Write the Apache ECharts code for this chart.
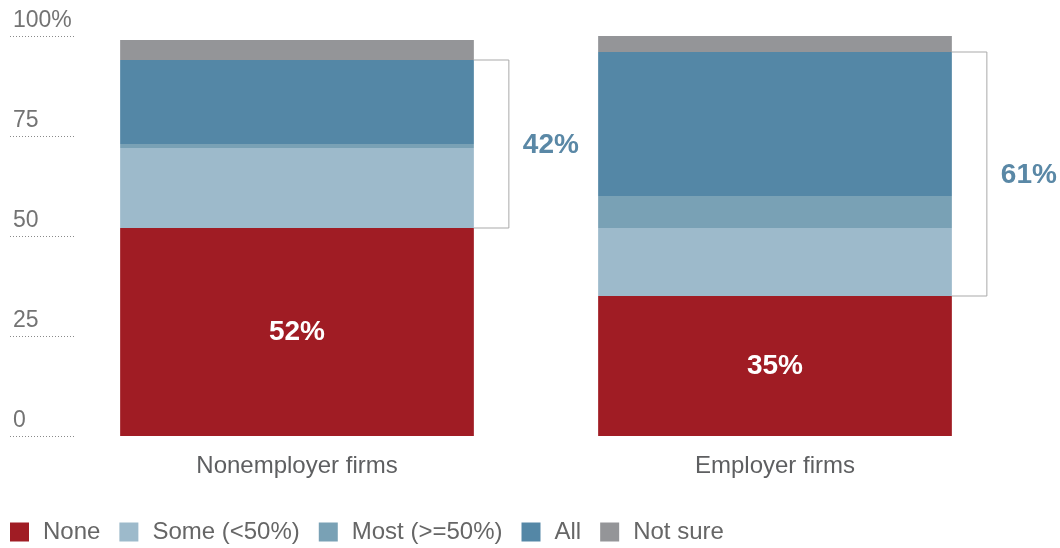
<!DOCTYPE html>
<html>
<head>
<meta charset="utf-8">
<script src="https://cdn.jsdelivr.net/npm/echarts@6/dist/echarts.min.js"></script>
<style>
  html, body { margin: 0; padding: 0; background: #ffffff; }
  #chart { width: 1060px; height: 548px; }
</style>
</head>
<body>
<div id="chart"></div>
<script>
// Share of firms by how much of their business is online (percent of firms)
const categories = ['Nonemployer firms', 'Employer firms'];
const noneValues = [52, 35];
const someValues = [20, 17];
const mostValues = [1, 8];
const allValues = [21, 36];
const notSureValues = [5, 4];
const yTicks = [0, 25, 50, 75, 100];

const seriesNames = ['None', 'Some (<50%)', 'Most (>=50%)', 'All', 'Not sure'];
const seriesColors = ['#a01c24', '#9dbacb', '#79a1b5', '#5487a6', '#949598'];
const seriesValues = [noneValues, someValues, mostValues, allValues, notSureValues];

const FONT = '"Liberation Sans", Arial, Helvetica, sans-serif';
const BAR_FRACTION = 0.74;

// Bracket spanning every "some online" answer, from top of None to top of All
const bracketData = categories.map((c, i) => {
  const lo = noneValues[i];
  const share = someValues[i] + mostValues[i] + allValues[i];
  return [i, lo, lo + share, share];
});

const chart = echarts.init(document.getElementById('chart'), null, { renderer: 'canvas' });

const barSeries = seriesNames.map((name, k) => ({
  name: name,
  type: 'bar',
  stack: 'share',
  barWidth: (BAR_FRACTION * 100) + '%',
  itemStyle: { color: seriesColors[k] },
  emphasis: { disabled: true },
  label: k === 0 ? {
    show: true,
    position: 'inside',
    formatter: '{c}%',
    color: '#ffffff',
    fontFamily: FONT,
    fontWeight: 'bold',
    fontSize: 28
  } : { show: false },
  data: seriesValues[k]
}));

chart.setOption({
  animation: false,
  textStyle: { fontFamily: FONT },
  grid: { left: 58, right: 46, top: 36, bottom: 112 },
  legend: {
    data: seriesNames,
    left: 10,
    top: 520,
    padding: 0,
    icon: 'rect',
    itemWidth: 19,
    itemHeight: 19,
    itemGap: 19,
    selectedMode: false,
    textStyle: {
      fontFamily: FONT,
      fontSize: 24,
      color: '#666666',
      padding: [0, 0, 0, 9]
    }
  },
  xAxis: {
    type: 'category',
    data: categories,
    axisLine: { show: false },
    axisTick: { show: false },
    axisLabel: {
      fontFamily: FONT,
      fontSize: 24,
      color: '#5e5f61',
      margin: 18
    }
  },
  yAxis: {
    type: 'value',
    min: yTicks[0],
    max: yTicks[yTicks.length - 1],
    interval: yTicks[1] - yTicks[0],
    offset: 48,
    axisLine: { show: false },
    splitLine: { show: false },
    axisTick: {
      show: true,
      inside: true,
      length: 64,
      lineStyle: { color: '#8a8a8a', width: 1, type: [1, 2] }
    },
    axisLabel: {
      inside: true,
      margin: 3,
      fontFamily: FONT,
      fontSize: 23,
      color: '#737373',
      align: 'left',
      verticalAlign: 'bottom',
      lineHeight: 24,
      padding: [0, 0, 3, 0],
      showMinLabel: true,
      showMaxLabel: true,
      formatter: v => (v === 100 ? '100%' : String(v))
    }
  },
  series: barSeries.concat([{
    name: 'bracket',
    type: 'custom',
    silent: true,
    z: 5,
    data: bracketData,
    renderItem: (params, api) => {
      const idx = api.value(0);
      const lo = api.coord([idx, api.value(1)]);
      const hi = api.coord([idx, api.value(2)]);
      const band = api.size([1, 0])[0];
      const xEdge = lo[0] + band * BAR_FRACTION / 2;
      const xArm = xEdge + 35;
      return {
        type: 'group',
        children: [{
          type: 'polyline',
          shape: { points: [[xEdge, hi[1]], [xArm, hi[1]], [xArm, lo[1]], [xEdge, lo[1]]] },
          style: { stroke: '#a9a9a9', lineWidth: 1, fill: null }
        }, {
          type: 'text',
          x: xArm + 42,
          y: (lo[1] + hi[1]) / 2 + 1,
          style: {
            text: api.value(3) + '%',
            fill: '#5a88a6',
            font: 'bold 28px ' + FONT,
            align: 'center',
            verticalAlign: 'middle'
          }
        }]
      };
    }
  }])
});
</script>
</body>
</html>
